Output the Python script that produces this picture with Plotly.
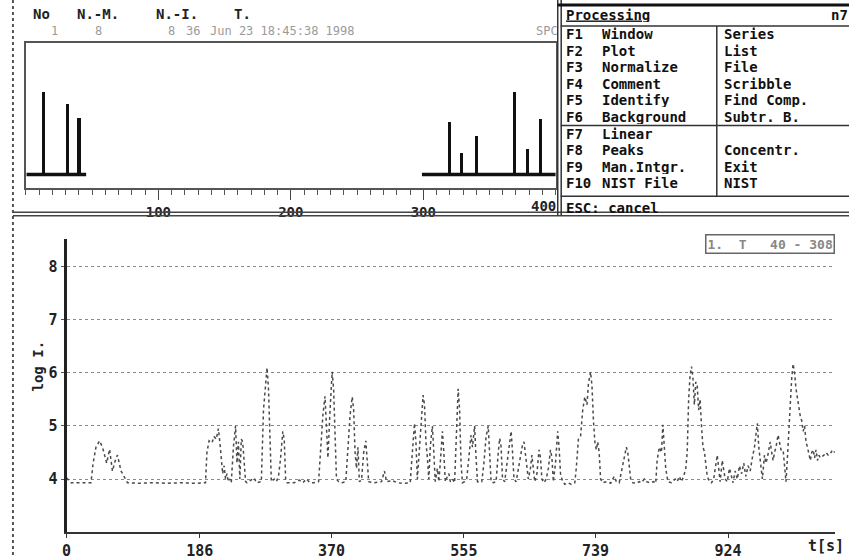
import plotly.graph_objects as go

W, H = 849, 560
MONO = "DejaVu Sans Mono"

# ---------------- data: mass spectrum (top panel) ----------------
spec_mz = [13, 31, 40, 320, 329, 340, 368.5, 378.5, 388.5]
spec_h = [0.63, 0.54, 0.43, 0.40, 0.165, 0.295, 0.63, 0.195, 0.42]
spec_base_x = [0.5, 45.5, None, 299, 400]
spec_base_y = [0, 0, None, 0, 0]
ruler_ticks = [100, 200, 300]
ruler_labels = ["100", "200", "300"]

# ---------------- data: total ion chromatogram (bottom panel) ----------------
t_s = [
    0, 3, 6, 34, 37, 41, 46, 50, 53, 56, 60, 64, 68, 71, 76, 80, 85,
    100, 120, 140, 160, 180, 194,
    196, 199, 203, 206, 209, 212, 214, 216, 218, 220, 222, 224, 226, 228, 230,
    233, 236, 238, 240, 242, 244, 246, 248, 250, 252, 262, 265, 272,
    275, 278, 280, 282, 284, 286, 290, 293, 296, 299, 302, 304, 306, 308,
    318, 325, 330, 335, 340, 345, 352,
    355, 358, 361, 363, 365, 368, 371, 373, 375, 377, 380, 385,
    390, 393, 396, 399, 401, 403, 405, 407, 409, 412, 415, 418, 420, 422,
    430, 440, 444, 447, 455, 462, 470, 480,
    483, 486, 488, 490, 492, 495, 498, 500, 502, 504, 506, 508, 511, 513, 515,
    518, 520, 522, 525, 527, 529, 532, 534, 536, 539, 542,
    544, 547, 549, 551, 553, 556, 559, 562, 565, 567, 570, 572, 574, 577,
    580, 583, 586, 589, 591, 593, 596, 600, 603, 605, 607, 609, 612,
    615, 618, 621, 623, 625, 628, 631, 634, 637, 639, 641, 643, 645,
    648, 650, 652, 654, 657, 660, 662, 664, 667, 670, 673, 676, 678, 680,
    683, 686, 688, 690, 693, 696, 700, 705, 710,
    712, 715, 718, 721, 724, 727, 729, 732, 734, 736, 738, 740, 742, 744, 746, 749,
    755, 760, 765, 768, 772, 776, 779, 782, 784, 786, 788, 791,
    796, 800, 803, 807, 810, 815, 820, 823,
    825, 828, 831, 833, 835, 837, 840, 845, 850, 853, 856, 859, 862, 865,
    867, 869, 871, 873, 875, 877, 879, 881, 883, 885, 887, 889, 891, 893, 895, 898,
    901, 904, 907, 909, 911, 913, 916, 918, 920, 923, 926, 928, 931,
    934, 937, 940, 943, 946, 949, 952, 955, 958, 961, 964, 965, 967, 969, 972,
    975, 977, 979, 981, 983, 985, 987, 989, 991, 994, 996, 998, 1001, 1003, 1005,
    1007, 1009, 1011, 1013, 1015, 1017, 1019, 1021, 1023, 1025, 1027, 1029, 1031, 1033, 1035,
    1037, 1039, 1041, 1043, 1045, 1047, 1049, 1051, 1053, 1055, 1058, 1061, 1064, 1067, 1070, 1073,
]
log_i = [
    4.02, 3.97, 3.93, 3.93, 4.3, 4.6, 4.72, 4.6, 4.45, 4.3, 4.56, 4.15, 4.35, 4.45, 4.15, 4.05, 3.93,
    3.92, 3.93, 3.92, 3.93, 3.92, 3.93,
    4.5, 4.72, 4.68, 4.8, 4.75, 4.95, 4.7, 4.4, 4.1, 4.25, 4.0, 4.1, 3.95, 4.0, 3.93,
    4.6, 5.0, 4.3, 4.7, 4.0, 4.75, 4.7, 4.2, 3.95, 3.93, 4.02, 3.93, 3.95,
    5.3, 5.9, 6.1, 5.7, 4.6, 3.95, 4.0, 3.95, 4.05, 4.4, 4.9, 4.75, 4.0, 3.93,
    3.93, 3.98, 3.93, 4.0, 3.93, 3.93, 3.95,
    4.6, 5.2, 5.56, 4.8, 4.4, 5.3, 6.02, 5.7, 4.6, 4.0, 3.95, 3.93,
    3.95, 4.6, 5.2, 5.55, 5.3, 4.5, 4.2, 4.6, 3.95, 3.98, 4.5, 4.72, 4.4, 3.95,
    3.93, 3.95, 4.15, 3.95, 3.97, 3.93, 3.92, 3.93,
    4.5, 5.05, 4.7, 4.0, 4.4, 5.0, 5.58, 5.4, 4.7, 4.4, 4.0, 4.6, 5.0, 4.5, 3.95,
    4.2, 3.95, 4.3, 4.9, 4.5, 3.95, 4.05, 4.1, 3.95, 4.0, 3.93,
    4.6, 5.7, 5.3, 4.3, 3.93, 3.95, 4.0, 4.5, 4.83, 4.6, 5.0, 4.4, 3.95, 3.93,
    3.95, 4.3, 4.8, 5.0, 4.4, 3.95, 3.93, 3.95, 4.5, 4.77, 4.6, 4.0, 3.95,
    4.3, 4.6, 4.9, 4.5, 4.0, 3.95, 4.2, 4.4, 4.65, 4.7, 4.5, 4.3, 4.0,
    4.2, 4.45, 4.2, 3.95, 4.1, 4.55, 4.4, 4.0, 3.93, 4.0, 4.2, 4.55, 4.4, 3.95,
    4.3, 4.9, 4.6, 4.1, 3.95, 3.9, 3.93, 3.9, 3.93,
    4.2, 4.75, 4.8, 5.3, 5.55, 5.4, 5.8, 6.02, 5.75, 5.1, 4.7, 4.55, 4.7, 4.5, 4.0, 3.93,
    3.95, 3.92, 4.05, 3.95, 3.93, 4.2, 4.4, 4.6, 4.5, 4.2, 4.0, 3.93,
    3.92, 3.95, 3.93, 4.0, 3.95, 3.93, 3.95, 3.92,
    4.35, 4.6, 4.5, 5.02, 4.6, 4.2, 3.95, 3.93, 4.0, 3.95, 4.05, 3.95, 4.05, 4.2,
    4.5, 5.5, 5.95, 6.12, 5.9, 5.4, 5.83, 5.75, 5.3, 5.5, 5.0, 4.6, 4.52, 4.3, 4.05, 3.95,
    3.93, 4.0, 4.3, 4.45, 4.2, 3.95, 4.35, 4.2, 4.0, 3.95, 4.2, 4.1, 3.93,
    4.15, 4.0, 4.25, 4.1, 4.3, 4.05, 4.25, 4.15, 4.4, 4.6, 4.95, 5.05, 4.6, 4.3, 4.0,
    4.45, 4.3, 4.4, 4.6, 4.7, 4.5, 4.35, 4.5, 4.6, 4.83, 4.7, 4.55, 4.55, 4.2, 3.95,
    4.4, 5.0, 5.3, 5.9, 6.17, 6.0, 5.7, 5.5, 5.3, 5.18, 5.1, 4.9, 5.0, 4.7, 4.6,
    4.45, 4.35, 4.5, 4.55, 4.4, 4.55, 4.35, 4.45, 4.4, 4.42, 4.45, 4.5, 4.45, 4.48, 4.55, 4.5,
]
assert len(t_s) == len(log_i), (len(t_s), len(log_i))
time_ticks = [0, 186, 370, 555, 739, 924]
time_labels = ["0", "186", "370", "555", "739", "924"]
logi_ticks = [4, 5, 6, 7, 8]
logi_labels = ["4", "5", "6", "7", "8"]

# menu text
menu_keys = ["F1", "F2", "F3", "F4", "F5", "F6", "F7", "F8", "F9", "F10"]
menu_left = ["Window", "Plot", "Normalize", "Comment", "Identify",
             "Background", "Linear", "Peaks", "Man.Intgr.", "NIST File"]
menu_right = ["Series", "List", "File", "Scribble", "Find Comp.",
              "Subtr. B.", "", "Concentr.", "Exit", "NIST"]
menu_rows_y = [34, 50.5, 67, 83.5, 100, 116.5, 134, 150.5, 167, 183.5]


def px(x):
    return x / W


def py(y):
    return 1 - y / H


fig = go.Figure()

# top: spectrum
fig.add_trace(go.Bar(x=spec_mz, y=spec_h, width=2.3, marker=dict(color="#111", line=dict(width=0)),
                     xaxis="x2", yaxis="y2", showlegend=False, hoverinfo="skip"))
fig.add_trace(go.Scatter(x=spec_base_x, y=spec_base_y, mode="lines",
                         line=dict(color="#111", width=3.5),
                         xaxis="x2", yaxis="y2", showlegend=False, hoverinfo="skip"))

# bottom: chromatogram
fig.add_trace(go.Scatter(x=t_s, y=log_i, mode="lines",
                         line=dict(color="#4a4a4a", width=1.5, dash="dot"),
                         xaxis="x", yaxis="y", showlegend=False, hoverinfo="skip"))

tickfont = dict(family=MONO, size=15, color="#222", weight="bold")

fig.update_layout(
    width=W, height=H,
    margin=dict(l=0, r=0, t=0, b=0),
    paper_bgcolor="white", plot_bgcolor="white",
    showlegend=False,
    bargap=0,
    xaxis=dict(domain=[px(62), px(835)], range=[0, 1073.6], anchor="y",
               showgrid=False, zeroline=False, showline=True, linecolor="#333", linewidth=2,
               ticks="outside", ticklen=4, tickcolor="#333",
               tickvals=time_ticks, ticktext=time_labels, tickfont=tickfont),
    yaxis=dict(domain=[py(534), py(240)], range=[3.0, 8.52], anchor="x",
               showgrid=True, gridcolor="#8a8a8a", gridwidth=1, griddash="dot",
               zeroline=False, showline=True, linecolor="#222", linewidth=3,
               ticks="outside", ticklen=3, tickcolor="#555",
               tickvals=logi_ticks, ticktext=logi_labels, tickfont=tickfont),
    xaxis2=dict(domain=[px(21), px(554)], range=[0, 400], anchor="y2",
                showgrid=False, zeroline=False, showline=True, mirror=True,
                linecolor="#555", linewidth=1.5,
                ticks="outside", ticklen=10, tickcolor="#444",
                tickvals=ruler_ticks, ticktext=ruler_labels,
                minor=dict(dtick=10, ticks="outside", ticklen=5, tickcolor="#555"),
                tickfont=dict(family=MONO, size=14, color="#222", weight="bold")),
    yaxis2=dict(domain=[py(189), py(43)], range=[-0.106, 1.0], anchor="x2",
                showgrid=False, zeroline=False, showline=True, mirror=True,
                linecolor="#555", linewidth=1.5, showticklabels=False, ticks=""),
)

shapes = []


def hline(y, x0, x1, color="#333", width=2, dash="solid"):
    shapes.append(dict(type="line", xref="paper", yref="paper",
                       x0=px(x0), x1=px(x1), y0=py(y), y1=py(y),
                       line=dict(color=color, width=width, dash=dash)))


def vline(x, y0, y1, color="#333", width=2, dash="solid"):
    shapes.append(dict(type="line", xref="paper", yref="paper",
                       x0=px(x), x1=px(x), y0=py(y0), y1=py(y1),
                       line=dict(color=color, width=width, dash=dash)))


# screen left border
vline(8, 0, 560, color="#555", width=2, dash="dot")
# separator between upper and lower half
hline(213, 8, 849, color="#444", width=1.5)
hline(216.5, 8, 849, color="#444", width=1.5)
# menu box
vline(556, 0, 216, color="#333", width=1.5)
vline(559.5, 0, 216, color="#333", width=1.5)
hline(5, 556, 849, color="#111", width=3)
hline(26, 559, 849, color="#333", width=1.5)
hline(126, 559, 849, color="#333", width=1.5)
hline(197, 559, 849, color="#333", width=1.5)
vline(716, 26, 197, color="#333", width=1.5)

annotations = []


def text(x, y, s, size=15, color="#111", anchor="left", bold=True, h=None, **kw):
    a = dict(xref="paper", yref="paper", x=px(x), y=py(y), text=s,
             showarrow=False, xanchor=anchor, yanchor="middle",
             font=dict(family=MONO, size=size, color=color,
                       weight="bold" if bold else "normal"), **kw)
    if h is not None:
        a["height"] = h
        a["borderpad"] = 0
    annotations.append(a)


# header
text(27, 14, "No", size=14, color="#222", h=14)
text(71, 14, "N.-M.", size=14, color="#222", h=14)
text(151, 14, "N.-I.", size=14, color="#222", h=14)
text(229, 14, "T.", size=14, color="#222", h=14)
text(45, 31, "1", size=12, color="#9a9a9a", bold=False, h=13)
text(90, 31, "8", size=12, color="#9a9a9a", bold=False, h=13)
text(163, 31, "8", size=12, color="#9a9a9a", bold=False, h=13)
text(181, 31, "36", size=12, color="#9a9a9a", bold=False, h=13)
text(205, 31, "Jun 23 18:45:38 1998", size=12, color="#9a9a9a", bold=False, h=13)
text(533, 31, "SPC", size=12, color="#9a9a9a", bold=False, h=13)

# ruler label at 400 (right-aligned against border)
annotations.append(dict(xref="x2", yref="paper", x=400, y=py(207), text="400", showarrow=False,
                        xanchor="right", yanchor="middle", xshift=2,
                        font=dict(family=MONO, size=14, color="#222", weight="bold")))

# menu
text(563, 15, "<span style='text-decoration:underline'>Processing</span>", size=14, h=15)
text(830, 15, "n7", size=14, h=15)
for k, l, r, yy in zip(menu_keys, menu_left, menu_right, menu_rows_y):
    text(563, yy, k, size=14, h=15)
    text(600, yy, l, size=14, h=15)
    if r:
        text(722, yy, r, size=14, h=15)
text(563, 208, "ESC: cancel", size=14, h=15)

# bottom panel labels
text(33, 367, "log I.", size=14, color="#222", anchor="center", textangle=-90)
text(826, 548, "t[s]", size=15, color="#222", anchor="center")
annotations.append(dict(xref="paper", yref="paper", x=px(770), y=py(245),
                        text="1.  T   40 - 308", showarrow=False,
                        xanchor="center", yanchor="middle",
                        bordercolor="#666", borderwidth=1.5, borderpad=1,
                        font=dict(family=MONO, size=13, color="#888", weight="bold")))

fig.update_layout(shapes=shapes, annotations=annotations)
fig.write_html("out.html",
               config={"displayModeBar": False},
               post_script="document.body.style.margin='0';document.body.style.overflow='hidden';")
